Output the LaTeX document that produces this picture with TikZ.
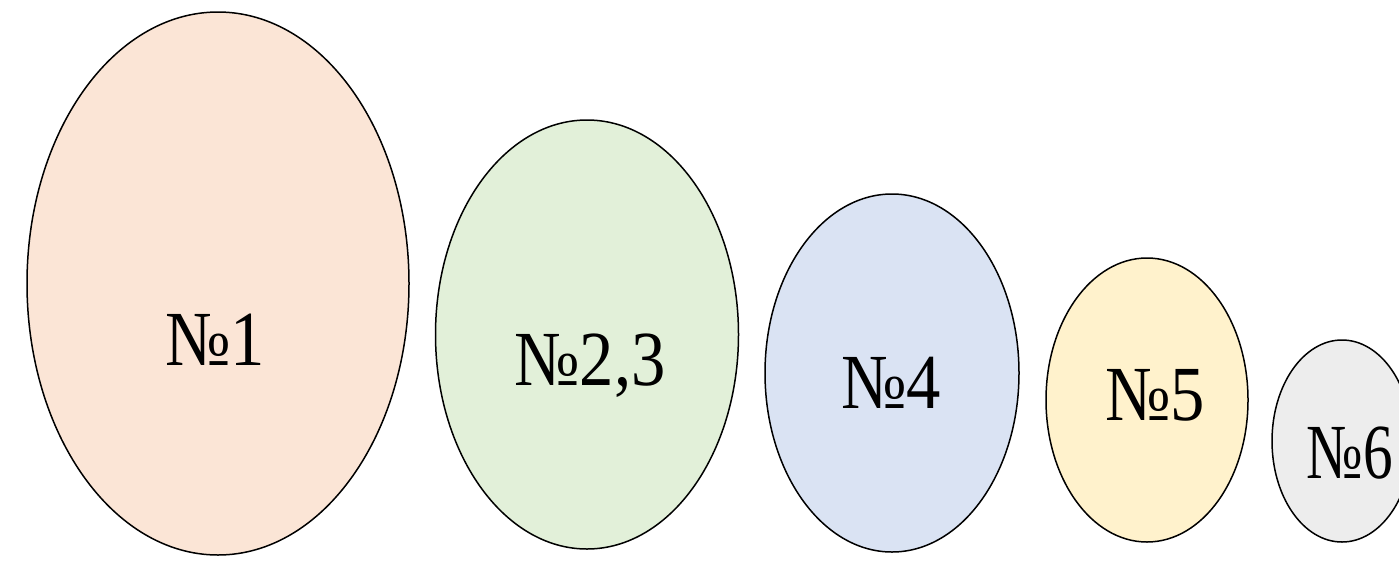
\documentclass[tikz,border=0pt]{standalone}
\usepackage{fontspec}
\setmainfont{Liberation Serif}
\usetikzlibrary{shapes.geometric}
\definecolor{cA}{HTML}{FBE5D6}
\definecolor{cB}{HTML}{E2F0D9}
\definecolor{cC}{HTML}{DAE3F3}
\definecolor{cD}{HTML}{FFF2CC}
\definecolor{cE}{HTML}{EDEDED}
\tikzset{
  blob/.style={ellipse, draw=black, line width=1.5pt, inner sep=0pt},
  lbl/.style={anchor=base, inner sep=0pt, font=\fontsize{78}{80}\selectfont}
}
\newcommand{\sq}[1]{\scalebox{0.88}[1]{#1}}
\newcommand{\sqn}[1]{\scalebox{0.76}[1]{#1}}
\begin{document}
\begin{tikzpicture}[x=1pt,y=-1pt]
\useasboundingbox (0,0) rectangle (1399,560);
\clip (0,0) rectangle (1399,560);
\fill[white] (0,0) rectangle (1399,560);
\node[blob, fill=cA, minimum width=382pt, minimum height=543pt] (e1) at (218,283.5) {};
\node[blob, fill=cB, minimum width=303pt, minimum height=429pt] (e2) at (587,334.5) {};
\node[blob, fill=cC, minimum width=254pt, minimum height=358pt] (e3) at (892,373) {};
\node[blob, fill=cD, minimum width=202pt, minimum height=284pt] (e4) at (1147,400) {};
\node[blob, fill=cE, minimum width=140pt, minimum height=202pt] (e5) at (1342,441) {};
\node[lbl] (t1) at (215,365) {\sq{№1}};
\node[lbl] (t2) at (590,385) {\sq{№2,3}};
\node[lbl] (t3) at (891,408) {\sq{№4}};
\node[lbl] (t4) at (1155,420) {\sq{№5}};
\node[lbl] (t5) at (1350,478) {\sqn{№6}};
\end{tikzpicture}
\end{document}
